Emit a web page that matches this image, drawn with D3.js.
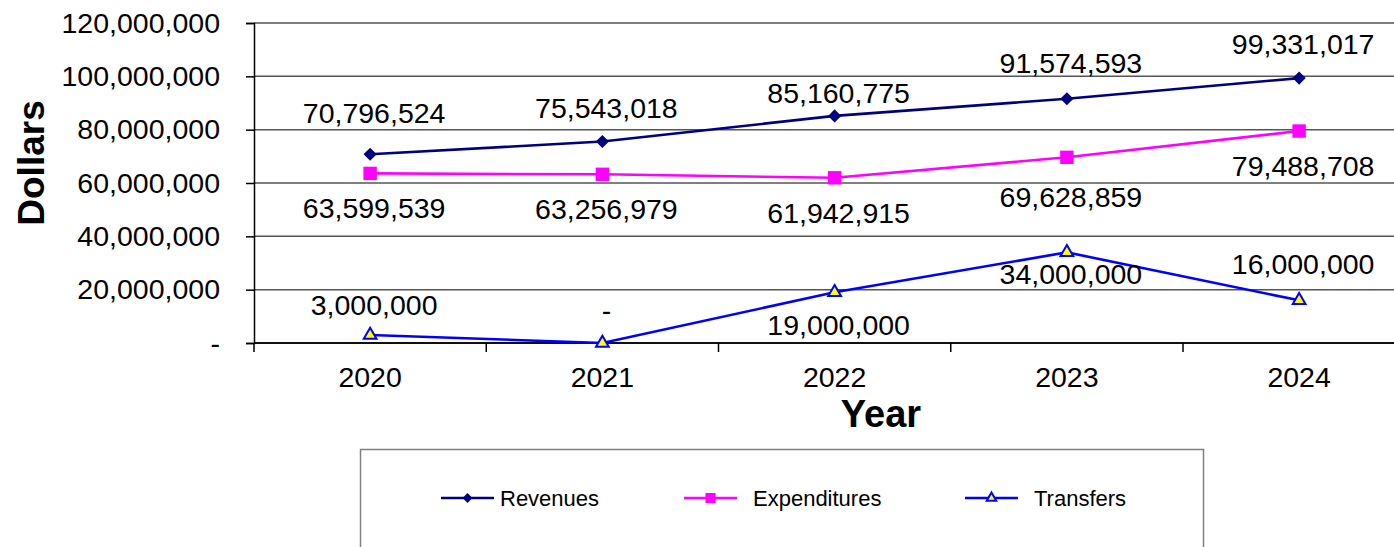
<!DOCTYPE html>
<html>
<head>
<meta charset="utf-8">
<script src="https://cdn.jsdelivr.net/npm/d3@7"></script>
<style>
  body { margin: 0; background: #fff; }
  svg { display: block; font-family: "Liberation Sans", Arial, sans-serif; }
</style>
</head>
<body>
<svg id="chart" width="1394" height="547"></svg>
<script>
const years = ["2020", "2021", "2022", "2023", "2024"];
const revenues = [70796524, 75543018, 85160775, 91574593, 99331017];
const expenditures = [63599539, 63256979, 61942915, 69628859, 79488708];
const transfers = [3000000, 0, 19000000, 34000000, 16000000];
const yTicks = [0, 20000000, 40000000, 60000000, 80000000, 100000000, 120000000];

// where each series puts its value labels
const revenueLabelSide = ["above", "above", "above", "above", "above"];
const expenditureLabelSide = ["below", "below", "below", "below", "below"];
const transferLabelSide = ["above", "above", "below", "below", "above"];
// small hand nudges (px) the original chart had on some labels
const revenueLabelNudge = [-7, 0, 11, -2, 0];
const expenditureLabelNudge = [0, 0, 0, 5, 0];
const transferLabelNudge = [4, 1, -2, -13, -2];

const PLOT_LEFT = 254;
const PLOT_TOP = 23;
const PLOT_BOTTOM = 343;
const BAND = 232.25;
const ABOVE_GAP = 24;
const BELOW_GAP = 45;

const svg = d3.select("#chart");

const x = d3.scaleBand()
  .domain(years)
  .range([PLOT_LEFT, PLOT_LEFT + BAND * years.length])
  .padding(0);

const y = d3.scaleLinear()
  .domain([0, 120000000])
  .range([PLOT_BOTTOM, PLOT_TOP]);

const fmt = d3.format(",");
const fmtLabel = v => v === 0 ? "-" : fmt(v);

// gridlines
svg.append("g")
  .selectAll("line")
  .data(yTicks)
  .join("line")
  .attr("x1", PLOT_LEFT)
  .attr("x2", 1394)
  .attr("y1", d => y(d))
  .attr("y2", d => y(d))
  .attr("stroke", d => d === 0 ? "#000" : "#555")
  .attr("stroke-width", 1.5);

// y axis
const yAxis = d3.axisLeft(y)
  .tickValues(yTicks)
  .tickSize(8)
  .tickPadding(26)
  .tickFormat(fmtLabel);

svg.append("g")
  .attr("transform", `translate(${PLOT_LEFT},0)`)
  .call(yAxis)
  .call(g => g.select(".domain").attr("stroke", "#000").attr("stroke-width", 1.5))
  .call(g => g.selectAll(".tick line").attr("stroke", "#000").attr("stroke-width", 1.5))
  .call(g => g.selectAll(".tick text")
    .attr("font-size", 28.5)
    .attr("font-family", "Liberation Sans, Arial, sans-serif")
    .attr("fill", "#000"));

// x axis: ticks at category boundaries, labels at centres
svg.append("line")
  .attr("x1", PLOT_LEFT).attr("x2", 1394)
  .attr("y1", PLOT_BOTTOM).attr("y2", PLOT_BOTTOM)
  .attr("stroke", "#000").attr("stroke-width", 1.5);

svg.append("g")
  .selectAll("line")
  .data(years)
  .join("line")
  .attr("x1", d => x(d))
  .attr("x2", d => x(d))
  .attr("y1", PLOT_BOTTOM)
  .attr("y2", PLOT_BOTTOM + 9)
  .attr("stroke", "#000")
  .attr("stroke-width", 1.5);

svg.append("g")
  .selectAll("text")
  .data(years)
  .join("text")
  .attr("x", d => x(d) + x.bandwidth() / 2)
  .attr("y", 387)
  .attr("text-anchor", "middle")
  .attr("font-size", 28.5)
  .text(d => d);

// axis titles
svg.append("text")
  .attr("x", 881)
  .attr("y", 427)
  .attr("text-anchor", "middle")
  .attr("font-size", 38)
  .attr("font-weight", "bold")
  .text("Year");

svg.append("text")
  .attr("transform", "translate(44,163) rotate(-90)")
  .attr("text-anchor", "middle")
  .attr("font-size", 37)
  .attr("font-weight", "bold")
  .text("Dollars");

const series = [
  { name: "Revenues", values: revenues, color: "#000080", marker: "diamond",
    sides: revenueLabelSide, nudge: revenueLabelNudge },
  { name: "Expenditures", values: expenditures, color: "#ff00ff", marker: "square",
    sides: expenditureLabelSide, nudge: expenditureLabelNudge },
  { name: "Transfers", values: transfers, color: "#0000ff", marker: "triangle",
    sides: transferLabelSide, nudge: transferLabelNudge }
];

const markerPath = {
  diamond: d3.symbol().type(d3.symbolDiamond2).size(110)(),
  square: d3.symbol().type(d3.symbolSquare).size(180)(),
  triangle: d3.symbol().type(d3.symbolTriangle).size(70)()
};

function drawMarker(sel, s, scale) {
  const p = sel.append("path")
    .attr("d", markerPath[s.marker])
    .attr("transform", `scale(${scale})`);
  if (s.marker === "triangle") {
    p.attr("fill", "#ffff00").attr("stroke", s.color).attr("stroke-width", 2 / scale);
  } else {
    p.attr("fill", s.color);
  }
}

const line = d3.line()
  .x((d, i) => x(years[i]) + x.bandwidth() / 2)
  .y(d => y(d));

series.forEach(s => {
  const g = svg.append("g");
  g.append("path")
    .datum(s.values)
    .attr("fill", "none")
    .attr("stroke", s.color)
    .attr("stroke-width", 2.6)
    .attr("d", line);

  s.values.forEach((v, i) => {
    const cx = x(years[i]) + x.bandwidth() / 2;
    const cy = y(v);
    const m = g.append("g").attr("transform", `translate(${cx},${cy})`);
    drawMarker(m, s, 1);
    const dy = s.sides[i] === "above" ? -ABOVE_GAP : BELOW_GAP;
    g.append("text")
      .attr("x", cx + 4)
      .attr("y", cy + dy + s.nudge[i])
      .attr("text-anchor", "middle")
      .attr("font-size", 28.5)
      .text(fmtLabel(v));
  });
});

// legend
svg.append("rect")
  .attr("x", 360.5)
  .attr("y", 449.5)
  .attr("width", 843)
  .attr("height", 120)
  .attr("fill", "#fff")
  .attr("stroke", "#808080")
  .attr("stroke-width", 1.5);

const legendX = [441, 684, 965];
series.forEach((s, i) => {
  const lg = svg.append("g").attr("transform", `translate(${legendX[i]},498)`);
  lg.append("line")
    .attr("x1", 0).attr("x2", 53)
    .attr("y1", 0).attr("y2", 0)
    .attr("stroke", s.color)
    .attr("stroke-width", 2.5);
  const m = lg.append("g").attr("transform", "translate(26.5,0)");
  drawMarker(m, s, 0.75);
  lg.append("text")
    .attr("x", i === 0 ? 59 : 69)
    .attr("y", 8)
    .attr("font-size", 22)
    .text(s.name);
});
</script>
</body>
</html>
